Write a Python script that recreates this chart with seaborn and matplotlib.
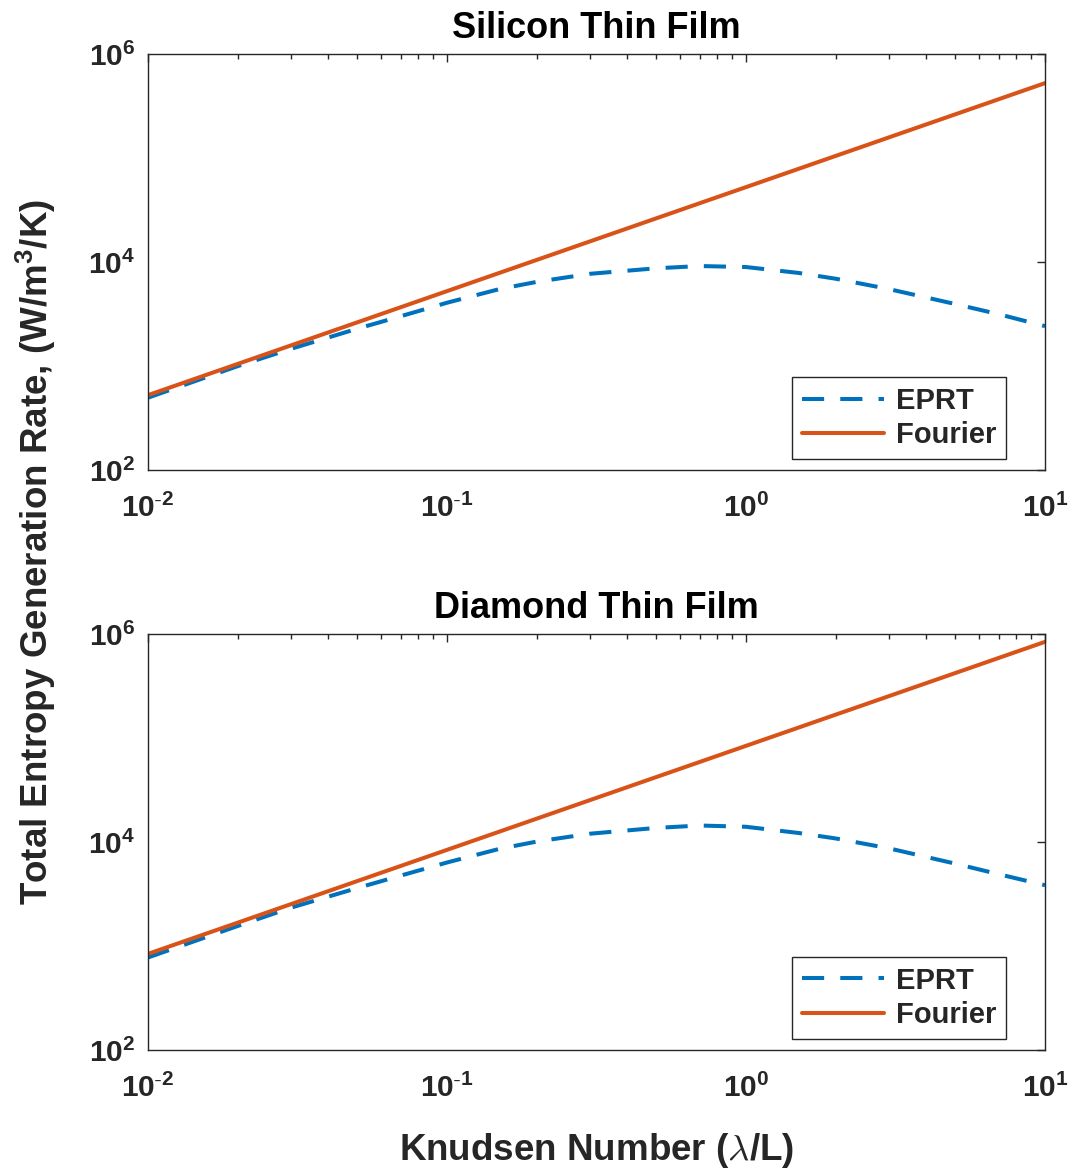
import pandas as pd
import matplotlib
matplotlib.use("Agg")
import matplotlib.pyplot as plt
import seaborn as sns
from matplotlib.ticker import NullLocator, LogLocator, FuncFormatter
import numpy as np

# values
kn = [0.01, 0.02, 0.03, 0.05, 0.07, 0.1, 0.15, 0.2, 0.3, 0.5, 0.7,
      1.0, 1.5, 2.0, 3.0, 5.0, 7.0, 10.0]
si_eprt = [496, 1000, 1460, 2280, 3010, 4060, 5500, 6450, 7700, 8700, 9150,
           8950, 7850, 6900, 5500, 3950, 3150, 2420]
si_fourier = [525, 1050, 1575, 2625, 3675, 5250, 7875, 10500, 15750, 26250, 36750,
              52500, 78750, 105000, 157500, 262500, 367500, 525000]
dia_eprt = [775, 1560, 2330, 3600, 4750, 6350, 8600, 10100, 12000, 13650, 14400,
            14000, 12200, 10800, 8700, 6200, 4900, 3840]
dia_fourier = [840, 1680, 2520, 4200, 5880, 8400, 12600, 16800, 25200, 42000, 58800,
               84000, 126000, 168000, 252000, 420000, 588000, 840000]

panels = [("Silicon Thin Film", si_eprt, si_fourier),
          ("Diamond Thin Film", dia_eprt, dia_fourier)]
models = ["EPRT", "Fourier"]
colors = {"EPRT": "#0072BD", "Fourier": "#D95319"}
dashes = {"EPRT": (5.5, 4), "Fourier": ""}

sns.set_style("white")
plt.rcParams['font.family'] = ['Liberation Sans', 'DejaVu Sans']
plt.rcParams['font.weight'] = 'bold'
plt.rcParams['axes.labelweight'] = 'bold'
plt.rcParams['axes.titleweight'] = 'bold'
plt.rcParams['mathtext.fontset'] = 'cm'
plt.rcParams['axes.unicode_minus'] = False


def pow10(v, pos):
    # MATLAB style exponent labels, short hyphen for negative powers
    e = int(round(np.log10(v)))
    exp = r"\text{-}%d" % abs(e) if e < 0 else "%d" % e
    return r"$\mathdefault{10^{%s}}$" % exp


fig, axes = plt.subplots(2, 1, figsize=(10.71, 11.69), dpi=100)
fig.subplots_adjust(left=148/1071, right=1045/1071, top=1-54/1169,
                    bottom=1-1050/1169, hspace=0.394)

for ax, (title, eprt, fourier) in zip(axes, panels):
    df = pd.DataFrame({
        "Kn": kn + kn,
        "S": eprt + fourier,
        "Model": ["EPRT"] * len(kn) + ["Fourier"] * len(kn),
    })
    sns.lineplot(data=df, x="Kn", y="S", hue="Model", style="Model",
                 hue_order=models, style_order=models, palette=colors,
                 dashes=dashes, linewidth=2.9, legend=False, ax=ax)
    ax.set_xscale("log")
    ax.set_yscale("log")
    ax.set_xlim(1e-2, 10)
    ax.set_ylim(1e2, 1e6)
    ax.set_yticks([1e2, 1e4, 1e6])
    ax.yaxis.set_minor_locator(NullLocator())
    ax.set_xticks([1e-2, 1e-1, 1e0, 1e1])
    ax.xaxis.set_minor_locator(LogLocator(base=10, subs=range(2, 10)))
    ax.xaxis.set_major_formatter(FuncFormatter(pow10))
    ax.yaxis.set_major_formatter(FuncFormatter(pow10))
    ax.tick_params(which="both", direction="in", top=True, right=True,
                   colors="#262626", labelcolor="#262626", labelsize=21.5)
    ax.tick_params(which="major", length=6, width=1)
    ax.tick_params(which="minor", length=3.5, width=1)
    ax.tick_params(axis="x", pad=17)
    ax.tick_params(axis="y", pad=9)
    for sp in ax.spines.values():
        sp.set_color("#262626")
        sp.set_linewidth(1.0)
    ax.set_xlabel("")
    ax.set_ylabel("")
    ax.set_title(title, fontsize=26, pad=11.5, color="black")
    leg = ax.legend(ax.lines[:2], models, loc="lower right",
                    bbox_to_anchor=(0.9565, 0.0264), borderaxespad=0,
                    fontsize=21, handlelength=2.8, handletextpad=0.4,
                    labelspacing=0.22, borderpad=0.34, fancybox=False,
                    framealpha=1, edgecolor="#262626")
    leg.get_frame().set_linewidth(1.0)

axes[1].set_xlabel(r"Knudsen Number ($\lambda$/L)", fontsize=26.5, labelpad=20,
                   color="#262626")
fig.supylabel(r"Total Entropy Generation Rate, (W/m$\mathdefault{^3}$/K)",
              fontsize=26.5, fontweight="bold", x=0.013, y=1-552/1169,
              color="#262626")

fig.savefig("out.png", dpi=100)
